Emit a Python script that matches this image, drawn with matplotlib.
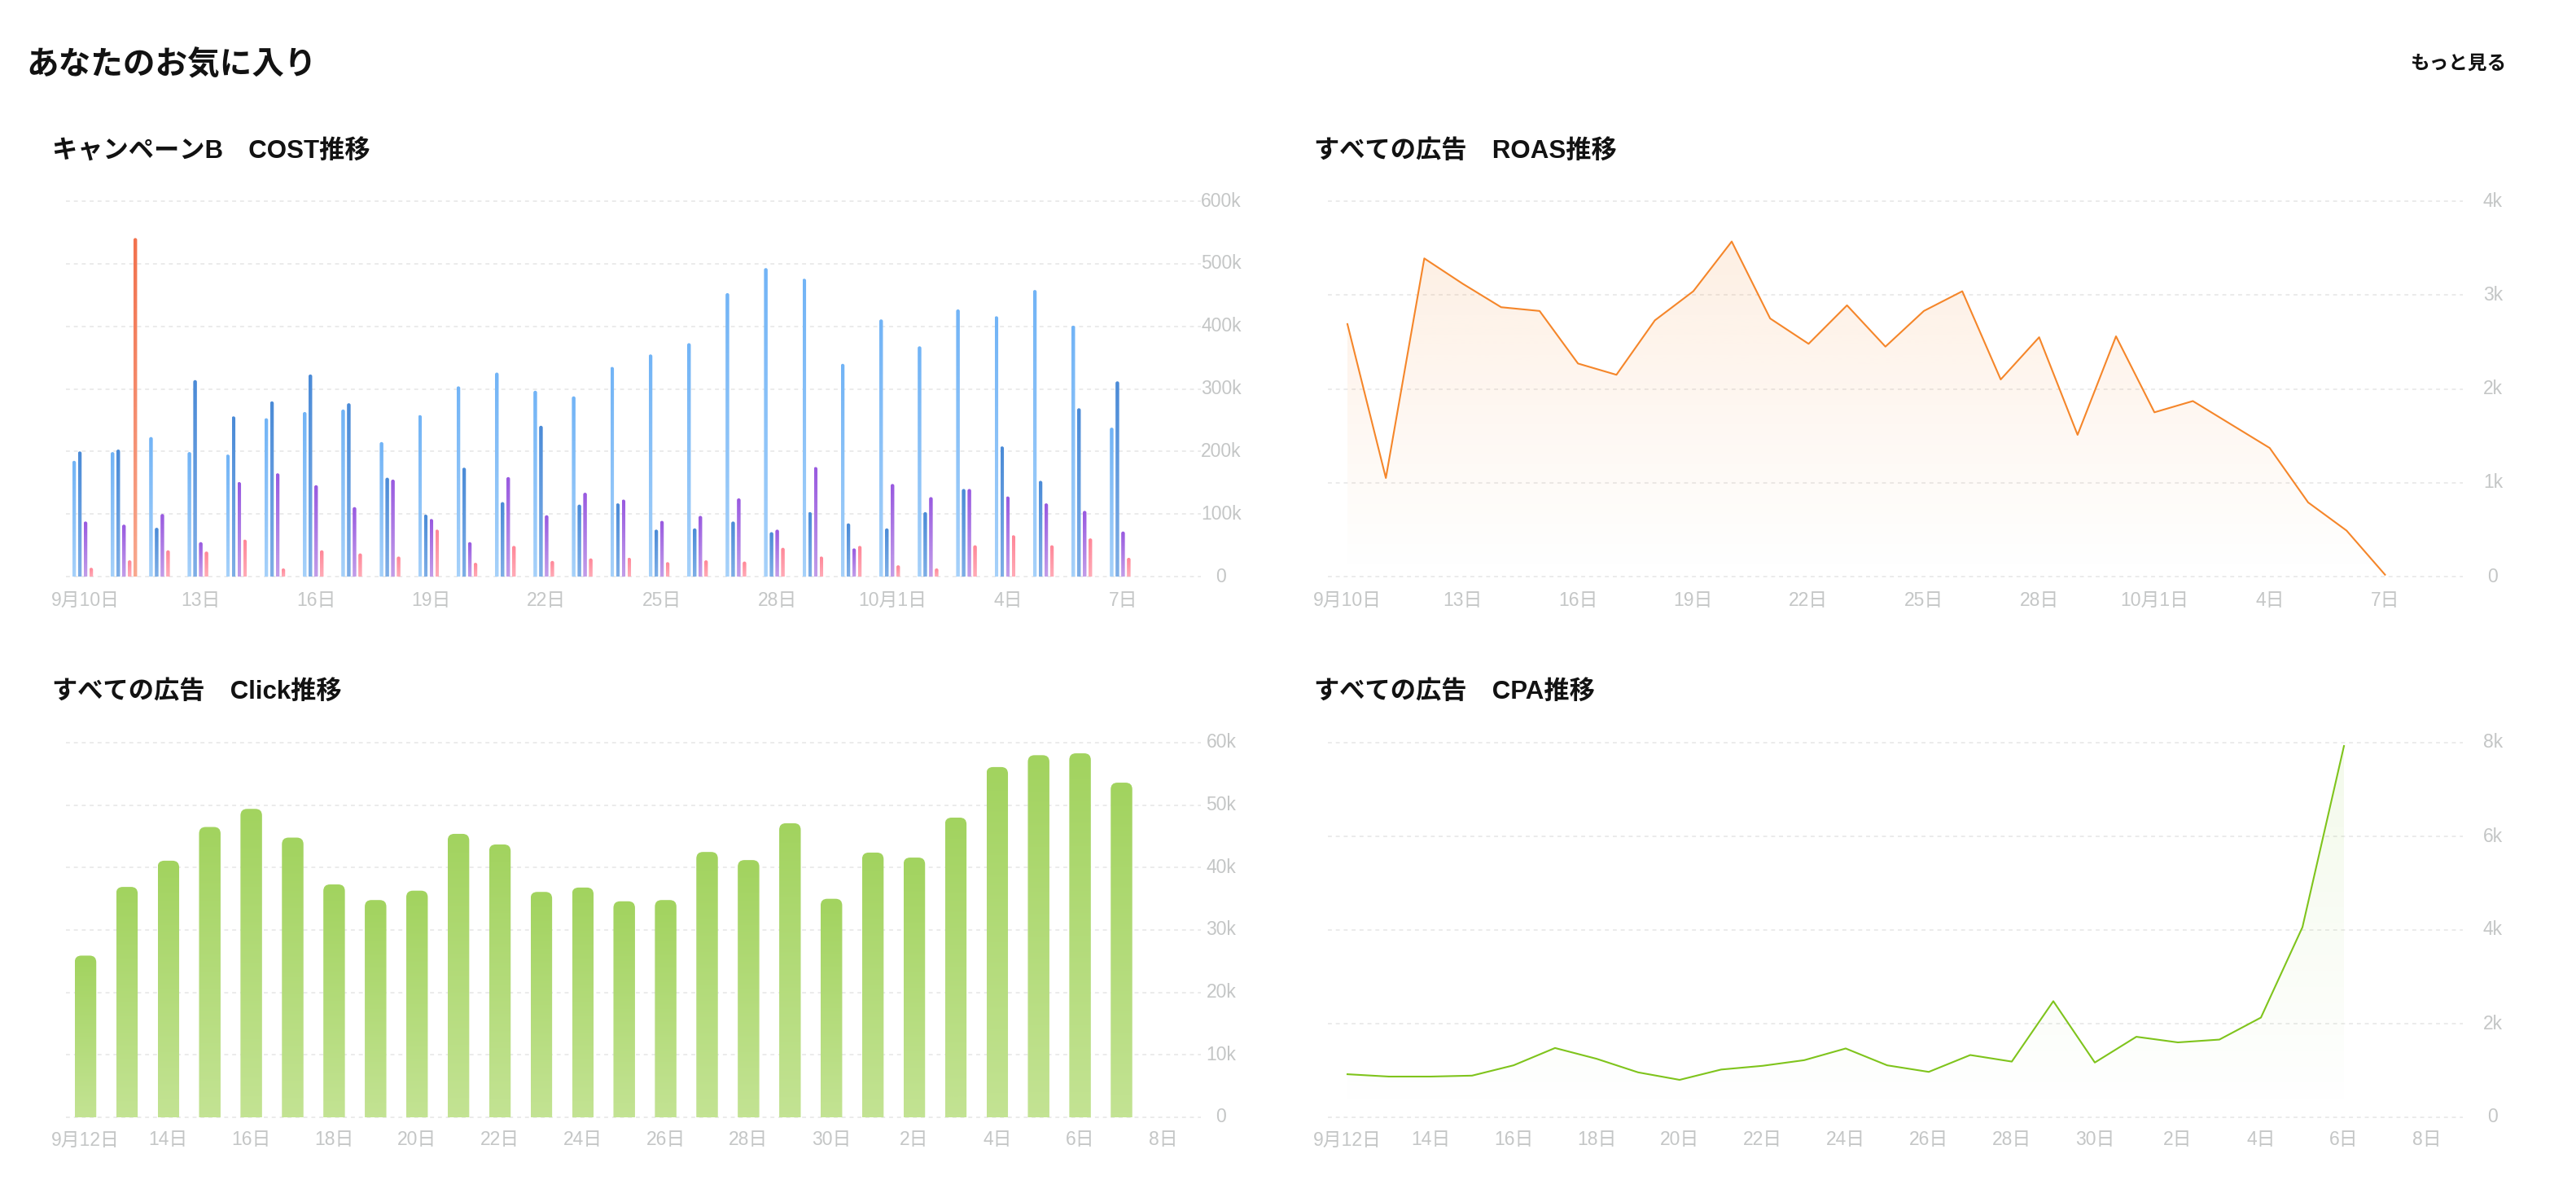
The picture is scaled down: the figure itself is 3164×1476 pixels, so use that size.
import numpy as np
import matplotlib
matplotlib.use("Agg")
import matplotlib.pyplot as plt
import matplotlib.transforms as mtransforms
from matplotlib.colors import LinearSegmentedColormap, to_rgb
from matplotlib.patches import FancyBboxPatch

# Latin glyphs from a Helvetica-like face, Japanese from Noto CJK
plt.rcParams['font.family'] = ['Liberation Sans', 'Noto Sans CJK JP', 'DejaVu Sans']

W, H = 3164, 1476

# ---- data ----
cost_ticks = [0, 3, 6, 9, 12, 15, 18, 21, 24, 27]
cost_tick_labels = ['9月10日', '13日', '16日', '19日', '22日', '25日', '28日', '10月1日', '4日', '7日']
cost_series_a = [185, 199, 223, 199, 195, 253, 263, 267, 215, 258, 304, 326, 297, 288,
                 335, 355, 373, 453, 493, 476, 340, 411, 368, 427, 416, 458, 401, 238]
cost_series_b = [200, 203, 78, 314, 256, 280, 323, 277, 158, 99, 174, 119, 241, 115,
                 117, 75, 77, 88, 71, 103, 85, 77, 103, 140, 208, 153, 269, 312]
cost_series_c = [88, 83, 100, 55, 151, 165, 146, 111, 155, 92, 55, 159, 98, 134,
                 123, 89, 97, 125, 75, 175, 45, 148, 127, 140, 128, 117, 105, 72]
cost_series_d = [14, 26, 42, 40, 59, 13, 42, 37, 32, 75, 22, 49, 25, 29,
                 30, 23, 26, 24, 46, 32, 49, 18, 13, 50, 66, 50, 61, 30]
cost_series_e = [0, 541, 0, 0, 0, 0, 0, 0, 0, 0, 0, 0, 0, 0,
                 0, 0, 0, 0, 0, 0, 0, 0, 0, 0, 0, 0, 0, 0]
cost_yticks = [0, 100000, 200000, 300000, 400000, 500000, 600000]
cost_ylabels = ['0', '100k', '200k', '300k', '400k', '500k', '600k']

roas_ticks = cost_ticks
roas_tick_labels = cost_tick_labels
roas_values = [2.69, 1.05, 3.39, 3.12, 2.87, 2.83, 2.27, 2.15, 2.73, 3.04, 3.57, 2.75, 2.48, 2.89,
               2.45, 2.83, 3.04, 2.10, 2.55, 1.51, 2.56, 1.75, 1.87, 1.62, 1.37, 0.79, 0.49, 0.02]
roas_yticks = [0, 1000, 2000, 3000, 4000]
roas_ylabels = ['0', '1k', '2k', '3k', '4k']

click_ticks = [0, 2, 4, 6, 8, 10, 12, 14, 16, 18, 20, 22, 24, 26]
click_tick_labels = ['9月12日', '14日', '16日', '18日', '20日', '22日', '24日', '26日',
                     '28日', '30日', '2日', '4日', '6日', '8日']
click_values = [25.9, 36.9, 41.1, 46.5, 49.4, 44.8, 37.3, 34.8, 36.3, 45.4, 43.7, 36.1, 36.8,
                34.6, 34.8, 42.5, 41.2, 47.1, 35.0, 42.4, 41.6, 48.0, 56.1, 58.0, 58.3, 53.6]
click_yticks = [0, 10000, 20000, 30000, 40000, 50000, 60000]
click_ylabels = ['0', '10k', '20k', '30k', '40k', '50k', '60k']

cpa_ticks = click_ticks
cpa_tick_labels = click_tick_labels
cpa_values = [0.92, 0.87, 0.87, 0.89, 1.11, 1.48, 1.25, 0.96, 0.80, 1.02, 1.10, 1.22, 1.47,
              1.11, 0.97, 1.33, 1.19, 2.48, 1.17, 1.72, 1.60, 1.66, 2.13, 4.06, 7.93]
cpa_yticks = [0, 2000, 4000, 6000, 8000]
cpa_ylabels = ['0', '2k', '4k', '6k', '8k']

# ---- style ----
GRID = '#ebebeb'
TICK = '#c4c6c6'
DARK = '#121212'
cost_colors = [('#72b4f6', '#a6d1fa'), ('#4b8bd7', '#7eaee6'), ('#995ae0', '#c29de9'),
               ('#ff8798', '#ffabb7'), ('#f2724e', '#f8a88e')]

fig = plt.figure(figsize=(W / 100, H / 100), dpi=100)
fig.patch.set_facecolor('white')


def px_axes(left, top, right, bottom):
    return fig.add_axes([left / W, 1 - bottom / H, (right - left) / W, (bottom - top) / H])


def setup(ax, x0, step, left, right, top, bottom, ymax, yticks, ylabels, xticks, xlabels,
          ylab_x, xlab_y):
    ax.set_xlim(-(x0 - left) / step, (right - x0) / step)
    ax.set_ylim(0, ymax)
    ax.axis('off')
    for v in yticks:
        ax.axhline(v, color=GRID, lw=1.4, ls=(0, (2.5, 2.5)), zorder=0, clip_on=False)
    ty = mtransforms.blended_transform_factory(fig.transFigure, ax.transData)
    for v, s in zip(yticks, ylabels):
        ax.text(ylab_x / W, v, s, transform=ty, ha='center', va='center',
                fontsize=16.5, color=TICK)
    tx = mtransforms.blended_transform_factory(ax.transData, fig.transFigure)
    for x, s in zip(xticks, xlabels):
        ax.text(x, 1 - xlab_y / H, s, transform=tx, ha='center', va='center',
                fontsize=16.5, color=TICK)
    # aspect used to keep rounded corners circular
    xpp = (ax.get_xlim()[1] - ax.get_xlim()[0]) / (right - left)
    ypp = ymax / (bottom - top)
    return ypp / xpp


def grad_bar(ax, x, h, w, top_c, bot_c, r, aspect):
    if h <= 0:
        return
    patch = FancyBboxPatch((x - w / 2, -r * aspect), w, h + r * aspect,
                           boxstyle=f"round,pad=0,rounding_size={r}",
                           mutation_aspect=aspect, fc='none', ec='none')
    ax.add_patch(patch)
    cmap = LinearSegmentedColormap.from_list('g', [bot_c, top_c])
    im = ax.imshow(np.linspace(0, 1, 64).reshape(-1, 1), extent=(x - w / 2, x + w / 2, 0, h),
                   origin='lower', cmap=cmap, aspect='auto', interpolation='bilinear', zorder=2)
    im.set_clip_path(patch)


def grad_area(ax, xs, ys, color, alpha_top):
    poly = ax.fill_between(xs, ys, 0, color='none', lw=0)
    img = np.zeros((64, 1, 4))
    img[:, 0, :3] = to_rgb(color)
    img[:, 0, 3] = np.linspace(0, alpha_top, 64)
    im = ax.imshow(img, extent=(xs[0], xs[-1], 0, max(ys)), origin='lower', aspect='auto',
                   interpolation='bilinear', zorder=1)
    im.set_clip_path(poly.get_paths()[0], ax.transData)


# ---- header ----
fig.text(32 / W, 1 - 80 / H, 'あなたのお気に入り', fontsize=28.5, fontweight='bold',
         color=DARK, ha='left', va='center')
fig.text(3078 / W, 1 - 78 / H, 'もっと見る', fontsize=17, fontweight='bold',
         color=DARK, ha='right', va='center')
for (x, y, s) in [(64, 186, 'キャンペーンB　COST推移'), (1614, 186, 'すべての広告　ROAS推移'),
                  (64, 850, 'すべての広告　Click推移'), (1614, 850, 'すべての広告　CPA推移')]:
    fig.text(x / W, 1 - y / H, s, fontsize=22.5, fontweight='bold', color=DARK,
             ha='left', va='center')

# ---- COST grouped bars ----
L, R, T, B = 81, 1475, 247, 708
ax1 = px_axes(L, T, R, B)
asp = setup(ax1, 105, 47.2, L, R, T, B, 600000, cost_yticks, cost_ylabels,
            cost_ticks, cost_tick_labels, 1500, 737)
bw, slot = 0.095, 0.148
for k, ser in enumerate([cost_series_a, cost_series_b, cost_series_c, cost_series_d, cost_series_e]):
    for i, v in enumerate(ser):
        grad_bar(ax1, i + (k - 2) * slot, v * 1000, bw, cost_colors[k][0], cost_colors[k][1],
                 bw / 2, asp)
ax1.set_xlim(-(105 - L) / 47.2, (R - 105) / 47.2)
ax1.set_ylim(0, 600000)

# ---- ROAS line ----
L2, R2 = 1631, 3025
ax2 = px_axes(L2, T, R2, B)
setup(ax2, 1655, 47.2, L2, R2, T, B, 4000, roas_yticks, roas_ylabels,
      roas_ticks, roas_tick_labels, 3062, 737)
xr = np.arange(len(roas_values))
yr = np.array(roas_values) * 1000
grad_area(ax2, xr, yr, '#f5862a', 0.13)
ax2.plot(xr, yr, color='#f5862a', lw=1.5, zorder=3)
ax2.set_xlim(-(1655 - L2) / 47.2, (R2 - 1655) / 47.2)
ax2.set_ylim(0, 4000)

# ---- Click bars ----
T3, B3 = 912, 1372
ax3 = px_axes(L, T3, R, B3)
asp3 = setup(ax3, 105, 50.9, L, R, T3, B3, 60000, click_yticks, click_ylabels,
             click_ticks, click_tick_labels, 1500, 1400)
for i, v in enumerate(click_values):
    grad_bar(ax3, i, v * 1000, 0.52, '#a2d35f', '#c3e393', 0.16, asp3)
ax3.set_xlim(-(105 - L) / 50.9, (R - 105) / 50.9)
ax3.set_ylim(0, 60000)

# ---- CPA line ----
ax4 = px_axes(L2, T3, R2, B3)
setup(ax4, 1655, 51.0, L2, R2, T3, B3, 8000, cpa_yticks, cpa_ylabels,
      cpa_ticks, cpa_tick_labels, 3062, 1400)
xc = np.arange(len(cpa_values))
yc = np.array(cpa_values) * 1000
grad_area(ax4, xc, yc, '#7fc41c', 0.09)
ax4.plot(xc, yc, color='#7fc41c', lw=1.5, zorder=3)
ax4.set_xlim(-(1655 - L2) / 51.0, (R2 - 1655) / 51.0)
ax4.set_ylim(0, 8000)

fig.savefig('out.png', dpi=100, facecolor='white')
